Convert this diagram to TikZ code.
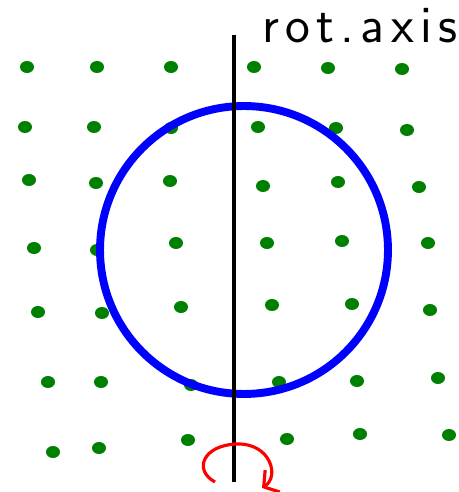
\documentclass[tikz,border=0pt]{standalone}
\usepackage{fontspec}
\newfontfamily\handfont{Latin Modern Sans}[LetterSpace=12]
\usetikzlibrary{arrows.meta}

\begin{document}
\begin{tikzpicture}[x=0.02cm, y=-0.02cm, >={Straight Barb[length=6pt, width=15pt]}]
    \useasboundingbox (0,0) rectangle (458,492);

    % Lattice points
    \foreach \px/\py in {27/67, 97/67, 171/67, 254/67, 328/68, 402/69,
                         25/127, 94/127, 171/128, 258/127, 336/128, 407/130,
                         29/180, 96/183, 170/181, 263/186, 338/182, 419/187,
                         34/248, 97/250, 176/243, 267/243, 342/241, 428/243,
                         38/312, 102/313, 181/307, 272/305, 352/304, 430/310,
                         48/382, 101/382, 191/385, 279/382, 357/381, 438/378,
                         53/452, 99/448, 188/440, 287/439, 360/434, 449/435}
        \fill[green!50!black] (\px,\py) ellipse [x radius=7, y radius=6];

    % Sphere
    \node[circle, draw=blue, line width=4.5pt, minimum size=5.76cm, inner sep=0pt] (sphere) at (244,250) {};

    % Rotation axis
    \coordinate (axtop) at (234,35);
    \coordinate (axbot) at (234,482);
    \draw[line width=2pt] (axtop) -- (axbot);
    \node[anchor=base west, inner sep=0pt, font=\handfont\fontsize{30}{32}\selectfont] (axlabel) at (262,43) {rot.axis};

    % Sense of rotation
    \coordinate (rotstart) at (215,482);
    \coordinate (rotend) at (262,488);
    \draw[->, red, line width=1.8pt] (rotstart) .. controls (193,470) and (203,445) .. (237,444)
        .. controls (270,443) and (280,476) .. (rotend);
\end{tikzpicture}
\end{document}
